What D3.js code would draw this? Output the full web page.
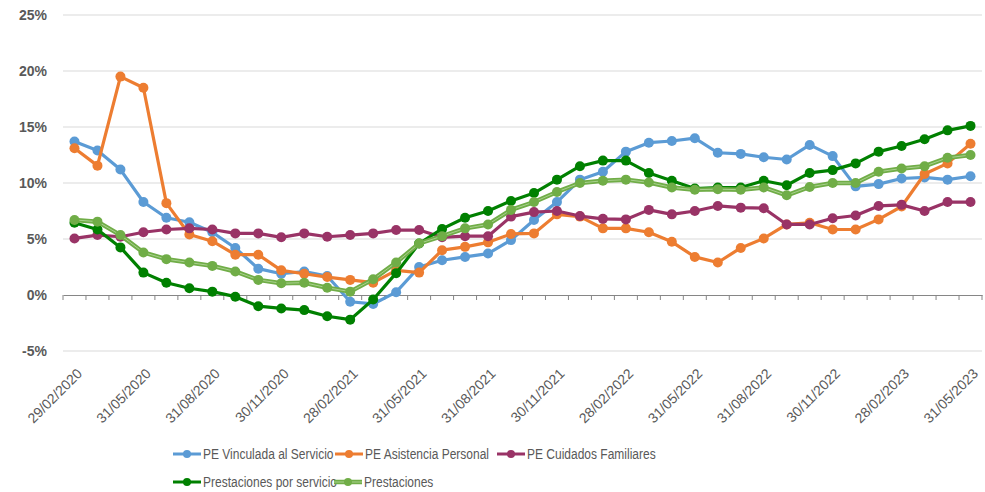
<!DOCTYPE html>
<html>
<head>
<meta charset="utf-8">
<script src="https://cdn.jsdelivr.net/npm/d3@7"></script>
<style>
body{margin:0;background:#fff;}
text{font-family:"Liberation Sans",Arial,sans-serif;}
</style>
</head>
<body>
<svg id="chart" width="985" height="492"></svg>
<script>
// meses de 29/02/2020 a 31/05/2023
var months = ["29/02/2020","31/03/2020","30/04/2020","31/05/2020","30/06/2020","31/07/2020","31/08/2020","30/09/2020","31/10/2020","30/11/2020",
"31/12/2020","31/01/2021","28/02/2021","31/03/2021","30/04/2021","31/05/2021","30/06/2021","31/07/2021","31/08/2021","30/09/2021",
"31/10/2021","30/11/2021","31/12/2021","31/01/2022","28/02/2022","31/03/2022","30/04/2022","31/05/2022","30/06/2022","31/07/2022",
"31/08/2022","30/09/2022","31/10/2022","30/11/2022","31/12/2022","31/01/2023","28/02/2023","31/03/2023","30/04/2023","31/05/2023"];

var peVinculada = [13.7,12.9,11.2,8.3,6.9,6.5,5.6,4.2,2.35,1.9,2.1,1.7,-0.6,-0.8,0.25,2.5,3.1,3.4,3.7,4.9,
6.7,8.3,10.3,11.0,12.8,13.6,13.75,14.0,12.7,12.6,12.3,12.1,13.4,12.4,9.7,9.9,10.4,10.5,10.3,10.6];
var peAsistencia = [13.1,11.55,19.5,18.5,8.2,5.4,4.8,3.6,3.6,2.2,1.9,1.6,1.35,1.1,2.2,2.0,4.0,4.3,4.7,5.45,
5.5,7.2,7.0,5.95,5.95,5.6,4.75,3.4,2.9,4.2,5.05,6.3,6.45,5.85,5.85,6.75,7.9,10.8,11.75,13.5];
var peCuidados = [5.05,5.35,5.2,5.6,5.85,5.95,5.85,5.5,5.5,5.15,5.5,5.2,5.35,5.5,5.8,5.8,5.15,5.25,5.25,7.0,
7.4,7.5,7.05,6.8,6.75,7.6,7.2,7.5,7.95,7.8,7.75,6.3,6.3,6.85,7.1,7.95,8.05,7.5,8.3,8.3];
var prestServicio = [6.45,5.85,4.25,2.0,1.1,0.6,0.3,-0.15,-1.0,-1.2,-1.35,-1.9,-2.2,-0.4,1.95,4.6,5.9,6.9,7.5,8.4,
9.1,10.3,11.5,12.0,12.0,10.9,10.2,9.5,9.6,9.6,10.2,9.8,10.9,11.15,11.75,12.8,13.3,13.9,14.7,15.1];
var prestaciones = [6.7,6.55,5.35,3.8,3.2,2.9,2.6,2.1,1.35,1.05,1.1,0.65,0.3,1.4,2.9,4.6,5.25,5.95,6.3,7.6,
8.3,9.2,10.0,10.2,10.3,10.05,9.6,9.4,9.45,9.4,9.6,8.9,9.65,10.0,10.0,11.0,11.3,11.5,12.25,12.5];

var seriesNames = ["PE Vinculada al Servicio","PE Asistencia Personal","PE Cuidados Familiares","Prestaciones por servicio","Prestaciones"];
var seriesColors = ["#5B9BD5","#ED7D31","#993366","#008000","#70AD47"];
var seriesValues = [peVinculada,peAsistencia,peCuidados,prestServicio,prestaciones];
var yTicks = [-5,0,5,10,15,20,25];

var svg = d3.select("#chart");
var plotLeft = 63, plotRight = 982, plotTop = 15, plotBottom = 351;

var x = d3.scaleBand().domain(months).range([plotLeft,plotRight]);
var y = d3.scaleLinear().domain([-5,25]).range([plotBottom,plotTop]);
function cx(i){ return x(months[i])+x.bandwidth()/2; }

// rejilla
svg.append("g").selectAll("line").data(yTicks.filter(function(d){return d!=0;})).enter().append("line")
	.attr("x1",plotLeft).attr("x2",plotRight)
	.attr("y1",function(d){return y(d);}).attr("y2",function(d){return y(d);})
	.attr("stroke","#D9D9D9").attr("stroke-width",1.2);

// eje y
svg.append("g").selectAll("text").data(yTicks).enter().append("text")
	.attr("x",47).attr("y",function(d){return y(d);}).attr("dy","0.35em")
	.attr("text-anchor","end").attr("fill","#595959")
	.style("font-size","14px").style("font-weight","bold")
	.text(function(d){return d+"%";});

// eje x en el 0
var xAxis = d3.axisBottom(x).tickSize(0).tickFormat("");
var gx = svg.append("g").attr("transform","translate(0,"+y(0)+")").call(xAxis);
gx.select(".domain").attr("stroke","#868686").attr("stroke-width",1.2);
var bounds = months.map(function(m){return x(m);}).concat([plotRight]);
gx.selectAll(".tk").data(bounds).enter().append("line")
	.attr("x1",function(d){return d;}).attr("x2",function(d){return d;})
	.attr("y1",0).attr("y2",5).attr("stroke","#868686");

// etiquetas x cada 3 meses
svg.append("g").selectAll("text").data(months.filter(function(d,i){return i%3==0;})).enter().append("text")
	.attr("transform",function(d){return "translate("+(x(d)+x.bandwidth()/2+5)+",371) rotate(-45)";})
	.attr("text-anchor","end").attr("dy","0.35em").attr("fill","#595959")
	.style("font-size","14px")
	.text(function(d){return d;});

// lineas
var line = d3.line().x(function(d,i){return cx(i);}).y(function(d){return y(d);});
seriesValues.forEach(function(vals,s){
	var g = svg.append("g");
	g.append("path").datum(vals).attr("d",line).attr("fill","none")
		.attr("stroke",seriesColors[s]).attr("stroke-width",s==4?4.5:3.2).attr("stroke-linejoin","round");
	if(s==4){
		g.append("path").datum(vals).attr("d",line).attr("fill","none")
			.attr("stroke","#A9D18E").attr("stroke-width",1).attr("stroke-linejoin","round");
	}
	g.selectAll("circle").data(vals).enter().append("circle")
		.attr("cx",function(d,i){return cx(i);})
		.attr("cy",function(d){return y(d);})
		.attr("r",5).attr("fill",seriesColors[s]);
});

// leyenda
var legendPos = [[173,454],[335,454],[497,454],[173,482],[334,482]];
seriesNames.forEach(function(name,s){
	var p = legendPos[s];
	var lg = svg.append("g").attr("transform","translate("+p[0]+","+p[1]+")");
	lg.append("line").attr("x1",0).attr("x2",28).attr("y1",0).attr("y2",0)
		.attr("stroke",seriesColors[s]).attr("stroke-width",s==4?4.5:3);
	if(s==4) lg.append("line").attr("x1",0).attr("x2",28).attr("y1",0).attr("y2",0).attr("stroke","#A9D18E").attr("stroke-width",1);
	lg.append("circle").attr("cx",14).attr("cy",0).attr("r",4).attr("fill",seriesColors[s]);
	lg.append("text").attr("transform","translate(30,0) scale(0.8,1)").attr("dy","0.33em").attr("fill","#595959")
		.style("font-size","15px").text(name);
});
</script>
</body>
</html>
